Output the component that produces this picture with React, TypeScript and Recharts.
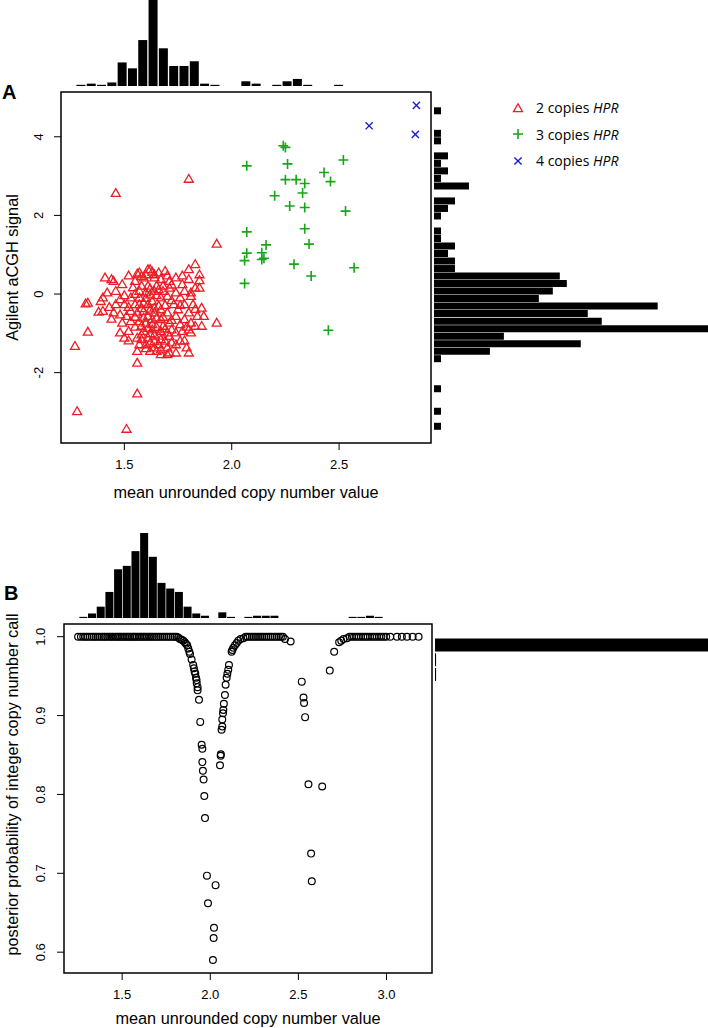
import React from 'react'
import { ScatterChart, Scatter, XAxis, YAxis, ReferenceArea, Legend, BarChart, Bar } from 'recharts'

const FONT = '"Liberation Sans", Arial, sans-serif'
const LEGEND_FONT = '"Open Sans", "Liberation Sans", sans-serif'
const RED = '#ee1c25'
const GREEN = '#18a518'
const BLUE = '#1c1ccc'

// ---- panel A: aCGH signal against mean copy number ----
const twoCopiesHPR = [
  [1.83, 0.74], [1.69, 0.57], [1.61, 0.61], [1.62, 0.61], [1.57, 0.53], [1.56, 0.5], [1.66, 0.53], [1.8, 0.61], [1.85, 0.48],
  [1.41, 0.4], [1.44, 0.36], [1.45, 0.31], [1.49, 0.23], [1.59, 0.4], [1.64, 0.4], [1.67, 0.36], [1.74, 0.4], [1.71, 0.31], [1.8, 0.36], [1.85, 0.33],
  [1.58, 0.19], [1.61, 0.19], [1.65, 0.19], [1.68, 0.19], [1.71, 0.14], [1.83, 0.14], [1.85, 0.14], [1.46, 0.06], [1.68, 0.06], [1.74, 0.02], [1.78, 0.06], [1.81, 0.02],
  [1.4, -0.11], [1.39, -0.2], [1.33, -0.24], [1.32, -0.26], [1.48, -0.15], [1.53, -0.11], [1.57, -0.11], [1.63, -0.2], [1.67, -0.11], [1.7, -0.07], [1.76, -0.11], [1.81, -0.07],
  [1.46, -0.28], [1.5, -0.28], [1.57, -0.28], [1.61, -0.28], [1.66, -0.32], [1.78, -0.28], [1.82, -0.28], [1.86, -0.37], [1.75, -0.41],
  [1.38, -0.47], [1.4, -0.45], [1.45, -0.49], [1.48, -0.54], [1.53, -0.45], [1.59, -0.45], [1.64, -0.49], [1.7, -0.49], [1.8, -0.49], [1.84, -0.58], [1.87, -0.58],
  [1.49, -0.75], [1.53, -0.71], [1.57, -0.71], [1.6, -0.75], [1.67, -0.66], [1.71, -0.75], [1.76, -0.79], [1.81, -0.75], [1.83, -0.83], [1.86, -0.83], [1.93, -0.75],
  [1.33, -0.98], [1.48, -1.0], [1.52, -0.96], [1.59, -0.96], [1.63, -0.92], [1.67, -0.96], [1.72, -0.92], [1.77, -0.96], [1.81, -1.0], [1.8, -0.92],
  [1.5, -1.13], [1.58, -1.17], [1.61, -1.13], [1.67, -1.17], [1.71, -1.09], [1.76, -1.21], [1.78, -1.2],
  [1.27, -1.34], [1.6, -1.3], [1.64, -1.38], [1.67, -1.43], [1.7, -1.38], [1.74, -1.3], [1.79, -1.38],
  [1.56, -1.47], [1.65, -1.47], [1.71, -1.51], [1.74, -1.51], [1.8, -1.51], [1.56, -1.77],
  [1.57, 0.06], [1.6, 0.02], [1.62, -0.03], [1.64, 0.06], [1.55, -0.28], [1.59, -0.24], [1.64, -0.37], [1.56, -0.49],
  [1.61, -0.58], [1.65, -0.62], [1.58, -0.83], [1.63, -0.79], [1.68, -0.83], [1.56, -1.13], [1.64, -1.05], [1.69, -1.21],
  [1.62, -1.26], [1.57, -1.3], [1.74, -0.58], [1.73, -0.28], [1.67, -0.41], [1.51, -0.58], [1.78, -0.66], [1.74, -1.0],
  [1.7, -1.55], [1.67, -1.55], [1.62, -1.47], [1.6, 0.48], [1.64, 0.48], [1.55, 0.31], [1.77, 0.23],
  [1.52, 0.45], [1.58, 0.44], [1.63, 0.55], [1.7, 0.45], [1.54, 0.15], [1.62, 0.12], [1.66, 0.1], [1.72, 0.22],
  [1.5, -0.05], [1.55, -0.02], [1.6, -0.12], [1.65, -0.05], [1.72, -0.18], [1.52, -0.35], [1.58, -0.38], [1.62, -0.42],
  [1.69, -0.3], [1.55, -0.6], [1.59, -0.62], [1.63, -0.66], [1.68, -0.6], [1.72, -0.68], [1.55, -0.85], [1.61, -0.88],
  [1.65, -0.86], [1.69, -0.9], [1.58, -1.05], [1.62, -1.02], [1.66, -1.08], [1.7, -1.0], [1.64, -1.22], [1.66, -1.3],
  [1.72, -1.25], [1.6, -1.4], [1.43, -0.35], [1.44, -0.65], [1.42, 0.02], [1.76, -0.3], [1.79, -0.85], [1.83, -0.4],
  [1.77, 0.45], [1.52, -1.2],
  [1.46, 2.55], [1.8, 2.91], [1.93, 1.26], [1.28, -3.0], [1.51, -3.45], [1.56, -2.55],
]

const threeCopiesHPR = [
  [2.24, 3.77], [2.25, 3.73], [2.07, 3.26], [2.26, 3.31], [2.52, 3.41], [2.25, 2.91], [2.3, 2.91], [2.34, 2.81],
  [2.43, 3.09], [2.46, 2.86], [2.33, 2.57], [2.2, 2.5], [2.27, 2.24], [2.34, 2.2], [2.53, 2.11], [2.07, 1.58],
  [2.34, 1.66], [2.36, 1.27], [2.16, 1.25], [2.07, 1.04], [2.14, 1.05], [2.06, 0.85], [2.14, 0.88], [2.15, 0.91],
  [2.29, 0.76], [2.57, 0.67], [2.37, 0.46], [2.06, 0.27], [2.45, -0.92],
]

const fourCopiesHPR = [[2.86, 4.8], [2.64, 4.28], [2.855, 4.06]]

// marginal histograms of panel A (counts per bin)
const topHistA = [1, 2, 1, 3, 20, 15, 39, 73, 32, 17, 17, 21, 2, 1, 0, 0, 4, 2, 0, 1, 4, 6, 1, 0, 0, 1]
const rightHistA = [
  1, 0, 0, 1, 1, 0, 2, 1, 2, 1, 5, 0, 3, 2, 1, 0, 1, 1, 3, 2, 3, 3,
  18, 19, 17, 15, 32, 22, 24, 40, 10, 21, 8, 1, 0, 0, 0, 1, 0, 0, 1, 0, 1,
]

const ticksAX = [1.5, 2, 2.5]
const ticksAY = [-2, 0, 2, 4]

// ---- panel B: posterior probability of the integer call ----
const PLATEAU = 1.0
const plateauLowX = [
  1.25, 1.266, 1.279, 1.291, 1.302, 1.315, 1.327, 1.338, 1.349, 1.361, 1.372, 1.384, 1.395, 1.404, 1.416, 1.427,
  1.438, 1.447, 1.459, 1.468, 1.479, 1.488, 1.497, 1.508, 1.517, 1.526, 1.536, 1.545, 1.556, 1.565, 1.574, 1.583,
  1.594, 1.603, 1.612, 1.622, 1.631, 1.641, 1.652, 1.661, 1.672, 1.683, 1.694, 1.705, 1.716, 1.728, 1.739, 1.751,
  1.762, 1.774, 1.786, 1.797, 1.808,
]
const dipNearTwo = [
  [1.818, 0.999], [1.828, 0.997], [1.838, 0.996], [1.847, 0.995], [1.855, 0.993], [1.862, 0.991], [1.869, 0.989],
  [1.875, 0.985], [1.881, 0.981], [1.885, 0.978], [1.894, 0.971], [1.903, 0.964], [1.907, 0.96], [1.911, 0.956],
  [1.915, 0.953], [1.919, 0.948], [1.922, 0.945], [1.923, 0.941], [1.928, 0.936], [1.928, 0.932], [1.936, 0.92],
  [1.943, 0.892], [1.951, 0.863], [1.955, 0.858], [1.955, 0.841], [1.958, 0.83], [1.962, 0.819], [1.966, 0.798],
  [1.97, 0.77], [1.981, 0.697], [1.987, 0.662], [2.015, 0.59], [2.019, 0.618], [2.021, 0.631], [2.03, 0.685],
  [2.055, 0.837], [2.059, 0.849], [2.06, 0.851], [2.064, 0.882], [2.068, 0.886], [2.068, 0.895], [2.072, 0.903],
  [2.074, 0.907], [2.077, 0.915], [2.083, 0.926], [2.087, 0.939], [2.093, 0.948], [2.097, 0.953], [2.102, 0.958],
  [2.106, 0.964], [2.121, 0.981], [2.125, 0.983], [2.131, 0.986], [2.14, 0.989], [2.15, 0.992], [2.159, 0.995],
  [2.172, 0.997], [2.188, 0.998],
]
const plateauMidX = [
  2.201, 2.212, 2.224, 2.236, 2.247, 2.259, 2.271, 2.283, 2.294, 2.306, 2.318, 2.33, 2.342, 2.353, 2.365, 2.377,
  2.389, 2.401, 2.412,
]
const dipNearThree = [
  [2.424, 0.997], [2.456, 0.994], [2.519, 0.943], [2.529, 0.923], [2.532, 0.916], [2.538, 0.898], [2.557, 0.813],
  [2.572, 0.725], [2.576, 0.69], [2.635, 0.81], [2.678, 0.957], [2.703, 0.981], [2.731, 0.993], [2.743, 0.995],
  [2.756, 0.997], [2.775, 0.998],
]
const plateauHighX = [
  2.79, 2.803, 2.816, 2.829, 2.842, 2.855, 2.868, 2.881, 2.893, 2.906, 2.919, 2.932, 2.945, 2.958, 2.971, 2.984,
  2.998, 3.021, 3.059, 3.087, 3.116, 3.148, 3.182,
]

const topHistB = [1, 4, 10, 23, 43, 46, 59, 75, 54, 31, 26, 23, 10, 4, 2, 0, 5, 1, 0, 1, 2, 2, 2, 0, 0, 0, 0, 0, 0, 0, 0, 1, 1, 2, 1]
const rightHistB = [262, 1, 1]

const ticksBX = [1.5, 2, 2.5, 3]
const ticksBY = [0.6, 0.7, 0.8, 0.9, 1.0]

const toPoints = (rows: number[][]) => rows.map(([x, y]) => ({ x, y }))
const toBins = (counts: number[]) => counts.map((n, i) => ({ bin: i, n }))

const posteriorPoints = [
  ...plateauLowX.map((x) => ({ x, y: PLATEAU })),
  ...toPoints(dipNearTwo),
  ...plateauMidX.map((x) => ({ x, y: PLATEAU })),
  ...toPoints(dipNearThree),
  ...plateauHighX.map((x) => ({ x, y: PLATEAU })),
]

// ---- marks ----
const Triangle = (p: any) => (
  <path d={`M${p.cx},${p.cy - 5.2}L${p.cx + 4.5},${p.cy + 2.6}L${p.cx - 4.5},${p.cy + 2.6}Z`} fill="none" stroke={RED} strokeWidth={1.3} />
)
const Plus = (p: any) => (
  <path d={`M${p.cx - 5},${p.cy}H${p.cx + 5}M${p.cx},${p.cy - 5}V${p.cy + 5}`} stroke={GREEN} strokeWidth={1.6} fill="none" />
)
const Cross = (p: any) => (
  <path d={`M${p.cx - 3.6},${p.cy - 3.6}L${p.cx + 3.6},${p.cy + 3.6}M${p.cx + 3.6},${p.cy - 3.6}L${p.cx - 3.6},${p.cy + 3.6}`} stroke={BLUE} strokeWidth={1.4} fill="none" />
)
const Ring = (p: any) => <circle cx={p.cx} cy={p.cy} r={3.4} fill="none" stroke="#000" strokeWidth={1.2} />

const RotatedTick = (p: any) => {
  const label = p.digits ? Number(p.payload.value).toFixed(p.digits) : String(p.payload.value)
  return (
    <text x={p.x} y={p.y} transform={`rotate(-90, ${p.x}, ${p.y})`} textAnchor="middle" fontSize={13} fontFamily={FONT} fill="#000">
      {label}
    </text>
  )
}

// y title, rotated; shift moves it along the axis
const AxisTitle = (p: any) => {
  const vb = p.viewBox || { x: 0, y: 0, height: 0 }
  const cx = 12
  const cy = vb.y + vb.height / 2 + (p.shift || 0)
  return (
    <text x={cx} y={cy} transform={`rotate(-90, ${cx}, ${cy})`} textAnchor="middle" dominantBaseline="central" fontSize={16.3} fontFamily={FONT} fill="#000">
      {p.caption}
    </text>
  )
}

const legendMarks: Record<string, any> = {
  '2 copies': <Triangle cx={7} cy={8} />,
  '3 copies': <Plus cx={7} cy={7} />,
  '4 copies': <Cross cx={7} cy={7} />,
}

const renderLegend = (props: any) => (
  <div style={{ fontFamily: LEGEND_FONT, fontSize: 14, color: '#000' }}>
    {(props.payload || []).map((entry: any) => (
      <div key={entry.value} style={{ display: 'flex', alignItems: 'center', height: 26.5 }}>
        <svg width={14} height={14}>{legendMarks[entry.value]}</svg>
        <span style={{ marginLeft: 11 }}>
          {entry.value} <i>HPR</i>
        </span>
      </div>
    ))}
  </div>
)

const tickStyle = { fontSize: 13, fill: '#000', fontFamily: FONT }
const fix1 = (v: number) => v.toFixed(1)

const App = () => {
  const xA: [number, number] = [1.205, 2.928]
  const yA: [number, number] = [-3.789, 5.139]
  const xB: [number, number] = [1.17, 3.258]
  const yB: [number, number] = [0.5736, 1.0161]

  return (
    <div style={{ position: 'absolute', left: 0, top: 0, width: 708, height: 1028, overflow: 'hidden', background: '#fff' }}>
      <div style={{ position: 'absolute', left: 2, top: 81, fontFamily: FONT, fontWeight: 'bold', fontSize: 20 }}>A</div>
      <div style={{ position: 'absolute', left: 4, top: 582, fontFamily: FONT, fontWeight: 'bold', fontSize: 20 }}>B</div>

      {/* panel A top histogram */}
      <div style={{ position: 'absolute', left: 76, top: 0 }}>
        <BarChart width={268} height={86} data={toBins(topHistA)} margin={{ top: 0, right: 0, bottom: 0, left: 0 }} barCategoryGap="4%">
          <XAxis dataKey="bin" hide />
          <YAxis hide domain={[0, 73]} />
          <Bar dataKey="n" fill="#000" isAnimationActive={false} />
        </BarChart>
      </div>

      {/* panel A right histogram */}
      <div style={{ position: 'absolute', left: 434, top: 107 }}>
        <BarChart layout="vertical" width={274} height={323} data={toBins(rightHistA)} margin={{ top: 0, right: 0, bottom: 0, left: 0 }} barCategoryGap="4%">
          <XAxis type="number" hide domain={[0, 39.2]} allowDataOverflow />
          <YAxis type="category" dataKey="bin" hide />
          <Bar dataKey="n" fill="#000" isAnimationActive={false} />
        </BarChart>
      </div>

      {/* panel A scatter */}
      <div style={{ position: 'absolute', left: 0, top: 80 }}>
        <ScatterChart width={708} height={430} margin={{ top: 12, right: 277, bottom: 0, left: 0 }}>
          <XAxis
            type="number"
            dataKey="x"
            domain={xA}
            ticks={ticksAX}
            interval={0}
            tickFormatter={fix1}
            axisLine={false}
            tickLine={{ stroke: '#000' }}
            tickSize={7}
            tickMargin={10}
            height={67}
            tick={tickStyle}
            allowDataOverflow
            label={{ value: 'mean unrounded copy number value', position: 'insideBottom', offset: 12, fontSize: 16.3, fill: '#000', fontFamily: FONT }}
          />
          <YAxis
            type="number"
            dataKey="y"
            domain={yA}
            ticks={ticksAY}
            interval={0}
            axisLine={false}
            tickLine={{ stroke: '#000' }}
            tickSize={7}
            tickMargin={11}
            width={61}
            tick={<RotatedTick digits={0} />}
            allowDataOverflow
            label={<AxisTitle caption="Agilent aCGH signal" />}
          />
          <ReferenceArea x1={xA[0]} x2={xA[1]} y1={yA[0]} y2={yA[1]} fill="none" fillOpacity={0} stroke="#000" strokeWidth={1.5} ifOverflow="visible" />
          <Scatter name="2 copies" data={toPoints(twoCopiesHPR)} fill={RED} shape={<Triangle />} isAnimationActive={false} />
          <Scatter name="3 copies" data={toPoints(threeCopiesHPR)} fill={GREEN} shape={<Plus />} isAnimationActive={false} />
          <Scatter name="4 copies" data={toPoints(fourCopiesHPR)} fill={BLUE} shape={<Cross />} isAnimationActive={false} />
          <Legend
            layout="horizontal"
            verticalAlign="middle"
            align="center"
            content={renderLegend}
            wrapperStyle={{ left: 511, top: 14.5, width: 160, height: 80 }}
          />
        </ScatterChart>
      </div>

      {/* panel B top histogram */}
      <div style={{ position: 'absolute', left: 79, top: 533 }}>
        <BarChart width={304} height={85} data={toBins(topHistB)} margin={{ top: 0, right: 0, bottom: 0, left: 0 }} barCategoryGap="4%">
          <XAxis dataKey="bin" hide />
          <YAxis hide domain={[0, 75]} />
          <Bar dataKey="n" fill="#000" isAnimationActive={false} />
        </BarChart>
      </div>

      {/* panel B right histogram */}
      <div style={{ position: 'absolute', left: 435, top: 638 }}>
        <BarChart layout="vertical" width={273} height={44} data={toBins(rightHistB)} margin={{ top: 0, right: 0, bottom: 0, left: 0 }} barCategoryGap="4%">
          <XAxis type="number" hide domain={[0, 250]} allowDataOverflow />
          <YAxis type="category" dataKey="bin" hide />
          <Bar dataKey="n" fill="#000" isAnimationActive={false} />
        </BarChart>
      </div>

      {/* panel B scatter */}
      <div style={{ position: 'absolute', left: 0, top: 600 }}>
        <ScatterChart width={440} height={428} margin={{ top: 24, right: 8, bottom: 0, left: 0 }}>
          <XAxis
            type="number"
            dataKey="x"
            domain={xB}
            ticks={ticksBX}
            interval={0}
            tickFormatter={fix1}
            axisLine={false}
            tickLine={{ stroke: '#000' }}
            tickSize={7}
            tickMargin={10}
            height={55}
            tick={tickStyle}
            allowDataOverflow
            label={{ value: 'mean unrounded copy number value', position: 'insideBottom', offset: 4, fontSize: 16.3, fill: '#000', fontFamily: FONT }}
          />
          <YAxis
            type="number"
            dataKey="y"
            domain={yB}
            ticks={ticksBY}
            interval={0}
            axisLine={false}
            tickLine={{ stroke: '#000' }}
            tickSize={7}
            tickMargin={12}
            width={64}
            tick={<RotatedTick digits={1} />}
            allowDataOverflow
            label={<AxisTitle caption="posterior probability of integer copy number call" shift={-14} />}
          />
          <ReferenceArea x1={xB[0]} x2={xB[1]} y1={yB[0]} y2={yB[1]} fill="none" fillOpacity={0} stroke="#000" strokeWidth={1.5} ifOverflow="visible" />
          <Scatter name="posterior" data={posteriorPoints} shape={<Ring />} isAnimationActive={false} />
        </ScatterChart>
      </div>
    </div>
  )
}

export default App
